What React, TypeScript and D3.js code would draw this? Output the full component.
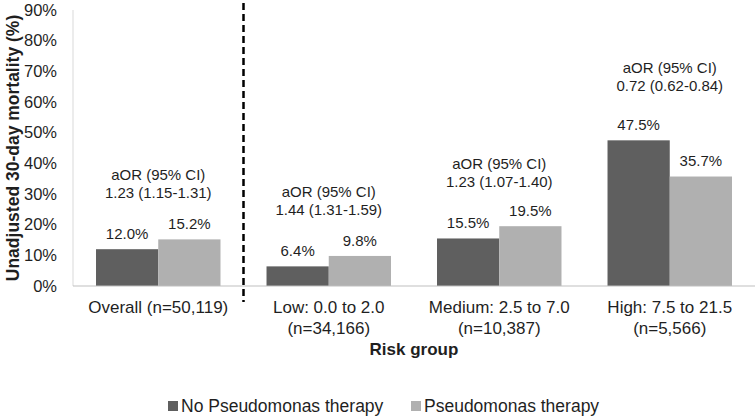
import React from "react";
import * as d3 from "d3";

const categories = ["Overall (n=50,119)", "Low: 0.0 to 2.0|(n=34,166)", "Medium: 2.5 to 7.0|(n=10,387)", "High: 7.5 to 21.5|(n=5,566)"];
const noPseudo = [12.0, 6.4, 15.5, 47.5];
const pseudo = [15.2, 9.8, 19.5, 35.7];
const aorLines = ["1.23 (1.15-1.31)", "1.44 (1.31-1.59)", "1.23 (1.07-1.40)", "0.72 (0.62-0.84)"];
const seriesNames = ["No Pseudomonas therapy", "Pseudomonas therapy"];
const yTicks = [0, 10, 20, 30, 40, 50, 60, 70, 80, 90];

// layout constants
const aorLift = [31, 31, 29, 39];
const W = 755, H = 419;
const left = 73, right = 755, top = 10, bottom = 286;
const colors = ["#5f5f5f", "#b0b0b0"];
const font = "'Liberation Sans', Arial, sans-serif";
const txt = "#1f1f1f";

export default function App() {
  const x = d3.scaleBand<number>().domain(d3.range(categories.length)).range([left, right]).paddingInner(0.27).paddingOuter(0.135);
  const y = d3.scaleLinear().domain([0, 90]).range([bottom, top]);
  const bw = x.bandwidth() / 2;
  const dashX = (x(0)! + x.bandwidth() + x(1)!) / 2;
  return (
    <svg width={W} height={H} style={{ position: "absolute", left: 0, top: 0, fontFamily: font }}>
      <rect width={W} height={H} fill="#fff" />
      <line x1={left} x2={left} y1={top} y2={bottom} stroke="#d9d9d9" />
      {yTicks.map((t) => (
        <text key={t} x={57} y={y(t)} dy="0.35em" textAnchor="end" fontSize={16.5} fill={txt}>{t}%</text>
      ))}
      {categories.map((c, i) => {
        const x0 = x(i)!;
        const cx = x0 + x.bandwidth() / 2;
        const vals = [noPseudo[i], pseudo[i]];
        const labelC = Math.min(...vals.map((v) => y(v))) - 15.5;
        return (
          <g key={i}>
            {vals.map((v, s) => (
              <g key={s}>
                <rect x={x0 + s * bw} y={y(v)} width={bw} height={bottom - y(v)} fill={colors[s]} />
                <text x={x0 + s * bw + bw / 2} y={y(v) - 15.5} dy="0.35em" textAnchor="middle" fontSize={15} fill={txt}>{v.toFixed(1)}%</text>
              </g>
            ))}
            <text x={cx} y={labelC - aorLift[i] - 18} dy="0.35em" textAnchor="middle" fontSize={15} fill={txt}>aOR (95% CI)</text>
            <text x={cx} y={labelC - aorLift[i]} dy="0.35em" textAnchor="middle" fontSize={15} fill={txt}>{aorLines[i]}</text>
            {c.split("|").map((line, k) => (
              <text key={k} x={cx} y={307 + k * 21} dy="0.35em" textAnchor="middle" fontSize={17} fill={txt}>{line}</text>
            ))}
          </g>
        );
      })}
      <line x1={left} x2={right} y1={bottom} y2={bottom} stroke="#bfbfbf" />
      <line x1={dashX} x2={dashX} y1={3} y2={302} stroke="#000" strokeWidth={2.5} strokeDasharray="7,4" />
      <text x={(left + right) / 2} y={349} dy="0.35em" textAnchor="middle" fontSize={17} fontWeight="bold" fill={txt}>Risk group</text>
      <text transform={`translate(13,${(top + bottom) / 2}) rotate(-90)`} textAnchor="middle" dy="0.35em" fontSize={17.5} fontWeight="bold" fill={txt}>Unadjusted 30-day mortality (%)</text>
      {seriesNames.map((n, s) => {
        const lx = [168, 411][s];
        return (
          <g key={n}>
            <rect x={lx} y={401} width={10} height={10} fill={colors[s]} />
            <text x={lx + 13} y={406} dy="0.35em" fontSize={17.5} fill={txt}>{n}</text>
          </g>
        );
      })}
    </svg>
  );
}
